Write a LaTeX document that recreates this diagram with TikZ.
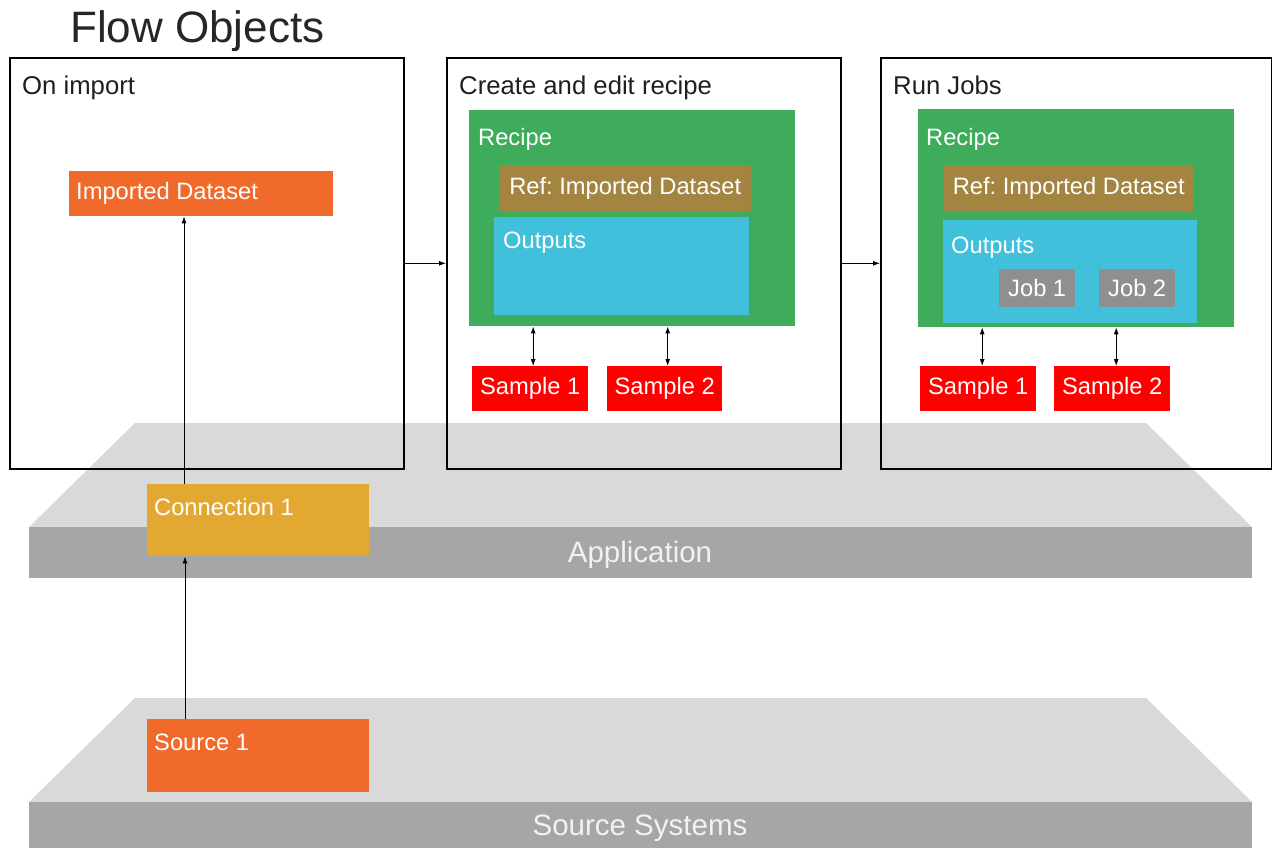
\documentclass[tikz,border=0pt]{standalone}
\usepackage{fontspec}
\setmainfont{Liberation Sans}
\usetikzlibrary{arrows.meta}
\frenchspacing

\definecolor{platTop}{HTML}{D9D9D9}
\definecolor{platFront}{HTML}{A6A6A6}
\definecolor{recipeGreen}{HTML}{3FAC5B}
\definecolor{refBrown}{HTML}{A38441}
\definecolor{outCyan}{HTML}{41C0DB}
\definecolor{jobGray}{HTML}{8F8F8F}
\definecolor{dataOrange}{HTML}{EF6A2B}
\definecolor{connGold}{HTML}{E2A832}
\definecolor{sampleRed}{HTML}{FF0000}

\begin{document}
\begin{tikzpicture}[x = 1pt, y = -1pt,
	stage/.style = {draw = black, line width = 1.6pt, anchor = north west, inner sep = 0pt},
	blk/.style = {anchor = north west, inner sep = 0pt, text = white, font = \fontsize{23.7}{28}\selectfont},
	hdr/.style = {anchor = base west, inner sep = 0pt, text = black!88, font = \fontsize{25.7}{30}\selectfont},
	lbl/.style = {anchor = base west, inner sep = 0pt, text = white, font = \fontsize{23.7}{28}\selectfont},
	plat/.style = {text = black!5, font = \fontsize{29.5}{34}\selectfont, inner sep = 0pt, anchor = base},
	arr/.style = {line width = 0.9pt, -{Latex[length = 7pt, width = 5pt]}},
	darr/.style = {line width = 0.9pt, {Latex[length = 7pt, width = 5pt]}-{Latex[length = 7pt, width = 5pt]}}]
	 \useasboundingbox (0, 0) rectangle (1272, 848);
	 
	 % platforms
	 \fill[platTop] (135, 423) -- (1146, 423) -- (1252, 527) -- (29, 527) -- cycle;
	 \fill[platFront] (29, 527) rectangle (1252, 578);
	 \node[plat] (app) at (640, 562) {Application};
	 
	 \fill[platTop] (135, 698) -- (1146, 698) -- (1252, 802) -- (29, 802) -- cycle;
	 \fill[platFront] (29, 802) rectangle (1252, 848);
	 \node[plat] (srcsys) at (640, 835) {Source Systems};
	 
	 \node[anchor = base west, inner sep = 0pt, text = black!85, font = \fontsize{44}{50}\selectfont] (title) at (70, 43) {Flow Objects};
	 
	 % stages
	 \node[stage, minimum width = 394, minimum height = 411] (import) at (9, 57) {};
	 \node[stage, minimum width = 394, minimum height = 411] (edit) at (446, 57) {};
	 \node[stage, minimum width = 391, minimum height = 411] (run) at (880, 57) {};
	 
	 \node[hdr] (importlbl) at (22, 95) {On import};
	 \node[hdr] (editlbl) at (459, 95) {Create and edit recipe};
	 \node[hdr] (runlbl) at (893, 95) {Run Jobs};
	 
	 \draw[arr] (import.east) -- (edit.west);
	 \draw[arr] (edit.east) -- (run.west);
	 
	 % on import
	 \node[blk, fill = dataOrange, minimum width = 264, minimum height = 45] (dataset) at (69, 171) {};
	 \node[lbl, anchor = west] (datasetlbl) at ([xshift = 7pt]dataset.west) {Imported Dataset};
	 
	 % create and edit recipe
	 \node[blk, fill = recipeGreen, minimum width = 326, minimum height = 216] (recipeA) at (469, 110) {};
	 \node[lbl] (recipeAlbl) at (478, 146) {Recipe};
	 \node[blk, fill = refBrown, minimum width = 252, minimum height = 46] (refA) at (499, 165) {Ref: Imported Dataset};
	 \node[blk, fill = outCyan, minimum width = 255, minimum height = 98] (outA) at (494, 217) {};
	 \node[lbl] (outAlbl) at (503, 248) {Outputs};
	 \node[blk, fill = sampleRed, minimum width = 116, minimum height = 45] (sampleA1) at (472, 366) {Sample 1};
	 \node[blk, fill = sampleRed, minimum width = 115, minimum height = 45] (sampleA2) at (607, 366) {Sample 2};
	 \draw[darr] ([xshift = 3pt]sampleA1.north) -- ([xshift = 3pt]sampleA1.north |- recipeA.south);
	 \draw[darr] ([xshift = 3pt]sampleA2.north) -- ([xshift = 3pt]sampleA2.north |- recipeA.south);
	 
	 % run jobs
	 \node[blk, fill = recipeGreen, minimum width = 316, minimum height = 218] (recipeB) at (918, 109) {};
	 \node[lbl] (recipeBlbl) at (926, 146) {Recipe};
	 \node[blk, fill = refBrown, minimum width = 251, minimum height = 46] (refB) at (943, 165) {Ref: Imported Dataset};
	 \node[blk, fill = outCyan, minimum width = 254, minimum height = 103] (outB) at (943, 220) {};
	 \node[lbl] (outBlbl) at (951, 253) {Outputs};
	 \node[blk, fill = jobGray, minimum width = 76, minimum height = 38] (job1) at (999, 269) {Job 1};
	 \node[blk, fill = jobGray, minimum width = 76, minimum height = 38] (job2) at (1099, 269) {Job 2};
	 \node[blk, fill = sampleRed, minimum width = 116, minimum height = 45] (sampleB1) at (920, 366) {Sample 1};
	 \node[blk, fill = sampleRed, minimum width = 116, minimum height = 45] (sampleB2) at (1054, 366) {Sample 2};
	 \draw[darr] ([xshift = 4pt]sampleB1.north) -- ([xshift = 4pt]sampleB1.north |- recipeB.south);
	 \draw[darr] ([xshift = 4pt]sampleB2.north) -- ([xshift = 4pt]sampleB2.north |- recipeB.south);
	 
	 % connection and source
	 \node[blk, fill = connGold, minimum width = 222, minimum height = 72] (conn) at (147, 484) {};
	 \node[lbl] (connlbl) at (154, 515) {Connection 1};
	 \node[blk, fill = dataOrange, minimum width = 222, minimum height = 73] (source) at (147, 719) {};
	 \node[lbl] (sourcelbl) at (154, 750) {Source 1};
	 
	 \draw[arr] ([xshift = 37pt]conn.north west) -- ([xshift = 37pt]conn.north west |- dataset.south);
	 \draw[arr] ([xshift = 38pt]source.north west) -- ([xshift = 38pt]source.north west |- conn.south);
	 \end{tikzpicture}
\end{document}
